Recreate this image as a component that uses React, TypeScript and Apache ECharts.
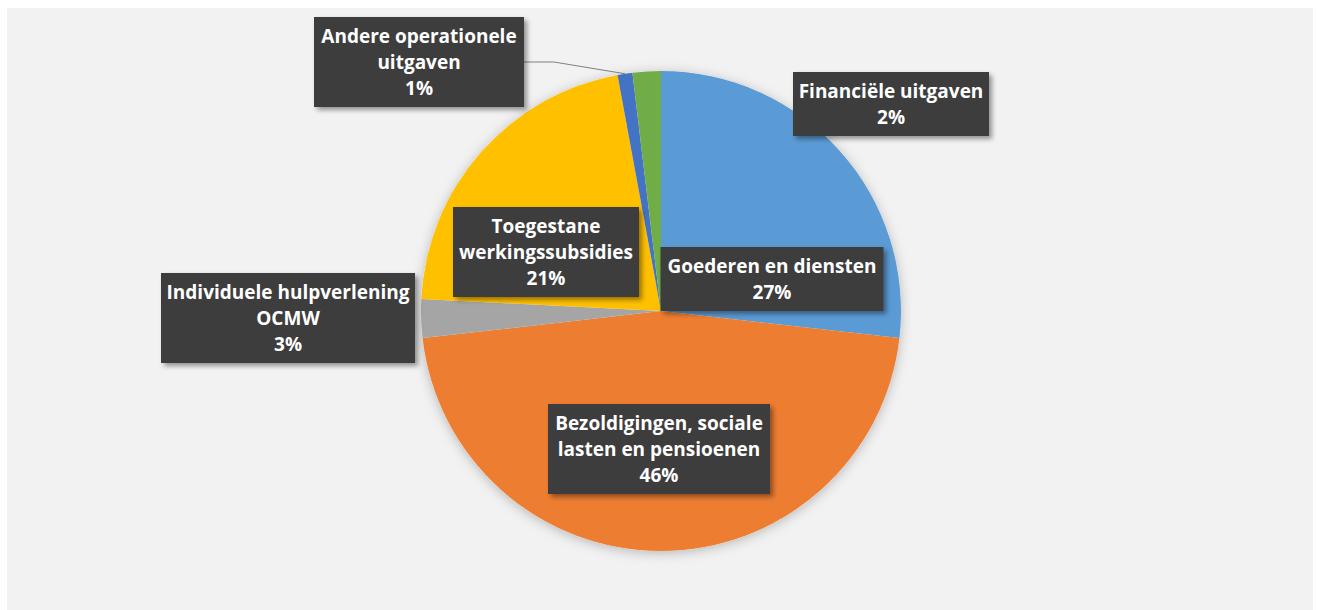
import React, { useEffect, useRef } from "react";
import * as echarts from "echarts";

const categories = [
  "Goederen en diensten",
  "Bezoldigingen, sociale lasten en pensioenen",
  "Individuele hulpverlening OCMW",
  "Toegestane werkingssubsidies",
  "Andere operationele uitgaven",
  "Financiële uitgaven",
];
const values = [26.8, 46.4, 2.6, 21.3, 1.0, 1.9];
const labelTexts = [
  "Goederen en diensten",
  "Bezoldigingen, sociale\nlasten en pensioenen",
  "Individuele hulpverlening\nOCMW",
  "Toegestane\nwerkingssubsidies",
  "Andere operationele\nuitgaven",
  "Financiële uitgaven",
];
const colors = ["#5B9BD5", "#ED7D31", "#A5A5A5", "#FFC000", "#4472C4", "#70AD47"];

// layout (label box centres and widths in px)
const labelCenters = [
  [772, 279],
  [659, 449],
  [288, 318],
  [546, 252],
  [419, 62],
  [891, 104],
];
const labelBoxWidths = [223, 222, 254, 186, 210, 196];

export default function App() {
  const ref = useRef<HTMLDivElement>(null);
  useEffect(() => {
    document.body.style.margin = "0";
    const chart = echarts.init(ref.current!, null, { renderer: "svg" });
    chart.setOption({
      animation: false,
      backgroundColor: "#ffffff",
      graphic: [
        {
          type: "rect",
          z: -10,
          silent: true,
          shape: { x: 7, y: 8, width: 1306, height: 602 },
          style: { fill: "#F2F2F2" },
        },
      ],
      series: [
        {
          type: "pie",
          silent: true,
          center: [661, 311],
          radius: 240,
          z: 1,
          label: { show: false },
          labelLine: { show: false },
          itemStyle: {
            color: "#F2F2F2",
            shadowBlur: 12,
            shadowColor: "rgba(0,0,0,0.25)",
            shadowOffsetX: 0,
            shadowOffsetY: 2,
          },
          data: [{ value: 1, name: "" }],
        },
        {
          type: "pie",
          center: [661, 311],
          radius: 240,
          startAngle: 90,
          clockwise: true,
          z: 2,
          itemStyle: { borderWidth: 0 },
          label: {
            show: true,
            position: "outside",
            color: "#ffffff",
            fontFamily: "Open Sans",
            fontWeight: "bold",
            fontSize: 19,
            lineHeight: 26,
            align: "center",
            backgroundColor: "#3d3d3d",
            padding: [6, 0, 6, 0],
            shadowBlur: 5,
            shadowOffsetX: 3,
            shadowOffsetY: 3,
            shadowColor: "rgba(0,0,0,0.4)",
            formatter: (p: any) =>
              labelTexts[p.dataIndex] + "\n" + Math.round(p.percent) + "%",
          },
          labelLine: {
            show: false,
            lineStyle: { color: "#808080", width: 1 },
          },
          labelLayout: (params: any) => {
            const c = labelCenters[params.dataIndex];
            return {
              x: c[0],
              y: c[1],
              align: "center",
              verticalAlign: "middle",
            };
          },
          data: categories.map((name, i) => ({
            name,
            value: values[i],
            itemStyle: { color: colors[i] },
            label: { width: labelBoxWidths[i] },
            labelLine: { show: i === 4 },
          })),
        },
      ],
    });
    return () => chart.dispose();
  }, []);
  return <div ref={ref} style={{ width: 1317, height: 610 }} />;
}
